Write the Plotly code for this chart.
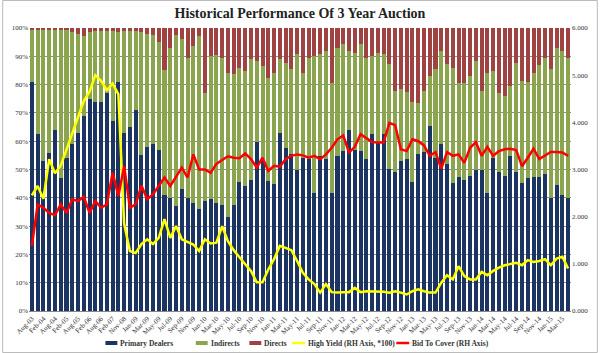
import plotly.graph_objects as go

categories = [
    "Aug-03", "Nov-03", "Feb-04", "May-04", "Aug-04", "Nov-04", "Feb-05", "May-05",
    "Aug-05", "Nov-05", "Feb-06", "May-06", "Aug-06", "Nov-06", "Feb-07", "May-07",
    "Nov-08", "Dec-08",
    "Jan-09", "Feb-09", "Mar-09", "Apr-09", "May-09", "Jun-09", "Jul-09", "Aug-09", "Sep-09", "Oct-09", "Nov-09", "Dec-09",
    "Jan-10", "Feb-10", "Mar-10", "Apr-10", "May-10", "Jun-10", "Jul-10", "Aug-10", "Sep-10", "Oct-10", "Nov-10", "Dec-10",
    "Jan-11", "Feb-11", "Mar-11", "Apr-11", "May-11", "Jun-11", "Jul-11", "Aug-11", "Sep-11", "Oct-11", "Nov-11", "Dec-11",
    "Jan-12", "Feb-12", "Mar-12", "Apr-12", "May-12", "Jun-12", "Jul-12", "Aug-12", "Sep-12", "Oct-12", "Nov-12", "Dec-12",
    "Jan-13", "Feb-13", "Mar-13", "Apr-13", "May-13", "Jun-13", "Jul-13", "Aug-13", "Sep-13", "Oct-13", "Nov-13", "Dec-13",
    "Jan-14", "Feb-14", "Mar-14", "Apr-14", "May-14", "Jun-14", "Jul-14", "Aug-14", "Sep-14", "Oct-14", "Nov-14", "Dec-14",
    "Jan-15", "Feb-15", "Mar-15", "Apr-15",
]

primary_dealers = [
    81, 62.5, 53, 56, 64, 47, 54, 59, 63, 69, 75, 74, 74, 77, 67, 81,
    63, 65, 71, 55, 58, 59, 57, 41, 40, 37, 43, 40, 38, 36, 39, 39.5,
    38.3, 37.5, 33.3, 37.5, 45.6, 44.2, 46.3, 59.7, 53.2, 46, 45, 62.8, 57.7, 55.4, 50, 54,
    53.8, 41.8, 54.8, 53.6, 41.8, 54.8, 56.5, 64, 57, 56.5, 53.6, 62.4, 59.5, 62.4, 50.3,
    49, 53, 53.8, 45.6, 55.6, 56.2, 65.4, 54.2, 58.9, 51.8, 45.1, 47.3, 46.3, 47.7, 50, 49.8,
    41.8, 54.2, 49.2, 47.7, 54.8, 49.2, 45.3, 47.1, 47.5, 47.5, 48.3, 40, 44.4, 40.9, 40,
]

directs = [
    0.5, 0.5, 0.5, 0.5, 0.5, 0.5, 0.5, 1.5, 2, 3, 1.5, 1, 1, 1, 1, 1.5,
    1, 1, 1, 1.5, 2, 2.5, 5, 15, 7, 2.5, 4, 10.5, 6.5, 3, 23, 10,
    9.7, 10.5, 15.8, 16.4, 14, 15.2, 11, 11.7, 13.4, 17.5, 15.8, 11, 12.2, 14.6, 9.3, 15.8,
    10.5, 10, 9.3, 8.1, 19.3, 7, 5.8, 8.1, 8.7, 5.8, 10.5, 9.9, 8.7, 9.3, 12.8,
    22.3, 21.7, 22.5, 26, 26.4, 22.3, 17, 14.6, 8.1, 12.8, 14, 19.3, 19.5, 17, 11.7, 22.3,
    15.8, 15.2, 22.9, 24, 20.5, 12.3, 18.7, 19, 15.8, 13.2, 10.5, 14.6, 7, 8.1, 10.5,
]

indirects = [round(100 - p - d, 2) for p, d in zip(primary_dealers, directs)]

high_yield = [
    2.45, 2.65, 2.38, 3.22, 2.92, 3.08, 3.42, 3.75, 4.1, 4.45, 4.65, 5.0, 4.88, 4.68, 4.82, 4.6,
    1.85, 1.27, 1.23, 1.42, 1.52, 1.42, 1.55, 1.95, 1.55, 1.8, 1.52, 1.46, 1.41, 1.27, 1.52, 1.43,
    1.45, 1.80, 1.48, 1.29, 1.13, 0.99, 0.85, 0.61, 0.61, 0.88, 1.10, 1.38, 1.34, 1.29, 1.06, 0.81,
    0.67, 0.57, 0.39, 0.57, 0.40, 0.39, 0.40, 0.40, 0.49, 0.40, 0.42, 0.42, 0.41, 0.41, 0.39,
    0.42, 0.39, 0.35, 0.42, 0.46, 0.42, 0.39, 0.39, 0.6, 0.76, 0.67, 0.95, 0.74, 0.67, 0.67, 0.83,
    0.76, 0.85, 0.92, 0.97, 0.99, 1.02, 0.97, 1.08, 1.04, 1.06, 1.10, 0.97, 1.11, 1.15, 0.90,
]

bid_to_cover = [
    1.38, 2.26, 2.19, 2.08, 2.03, 2.26, 2.08, 2.37, 2.33, 2.42, 2.08, 2.33, 2.19, 2.26, 2.93, 2.44,
    3.07, 2.19, 2.26, 2.66, 2.37, 2.47, 2.65, 2.83, 2.65, 2.86, 3.04, 2.83, 3.32, 3.0, 3.0, 2.93,
    3.12, 3.2, 3.28, 3.25, 3.24, 3.34, 3.22, 3.04, 3.25, 2.97, 3.08, 3.06, 3.22, 3.29, 3.32, 3.3,
    3.25, 3.29, 3.22, 3.32, 3.46, 3.64, 3.72, 3.36, 3.48, 3.75, 3.67, 3.58, 3.57, 3.57, 3.99,
    3.94, 3.43, 3.39, 3.64, 3.6, 3.51, 3.29, 3.37, 3.02, 3.37, 3.29, 3.32, 3.14, 3.46, 3.58, 3.29,
    3.48, 3.29, 3.39, 3.43, 3.44, 3.41, 3.07, 3.25, 3.44, 3.22, 3.29, 3.37, 3.37, 3.36, 3.29,
]

left_ticks = [0, 10, 20, 30, 40, 50, 60, 70, 80, 90, 100]
right_ticks = [0, 1, 2, 3, 4, 5, 6]
x_ticks = categories[::2]

series_names = ["Primary Dealers", "Indirects", "Directs",
                "High Yield (RH Axis, *100)", "Bid To Cover (RH Axis)"]
series_colors = ["#1B3461", "#8AA54E", "#9E4242", "#FFFF00", "#FF0000"]

SERIF = "Liberation Serif, Times New Roman, serif"

fig = go.Figure()
for vals, nm, col in zip([primary_dealers, indirects, directs], series_names[:3], series_colors[:3]):
    fig.add_trace(go.Bar(x=categories, y=vals, name=nm, marker=dict(color=col, line=dict(width=0))))
for vals, nm, col in zip([high_yield, bid_to_cover], series_names[3:], series_colors[3:]):
    fig.add_trace(go.Scatter(x=categories, y=vals, name=nm, mode="lines", yaxis="y2",
                             line=dict(color=col, width=2.5)))

W, H = 600, 353
ml, mr, mt, mb = 27, 27, 28, 42
pw, ph = W - ml - mr, H - mt - mb


def px(xp):
    return (xp - ml) / pw


def py(yp):
    return (mt + ph - yp) / ph


fig.update_layout(
    width=W, height=H,
    margin=dict(l=ml, r=mr, t=mt, b=mb),
    paper_bgcolor="white", plot_bgcolor="white",
    barmode="stack", bargap=0.3, showlegend=False,
    title=dict(text="<b>Historical Performance Of 3 Year Auction</b>",
               x=0.5, xanchor="center", y=1 - 13.5 / H, yanchor="middle",
               font=dict(family=SERIF, size=14, color="#222222")),
    font=dict(family=SERIF, size=7, color="#333333"),
    xaxis=dict(type="category", categoryorder="array", categoryarray=categories,
               tickmode="array", tickvals=x_ticks, ticktext=x_ticks,
               tickangle=-45, tickfont=dict(family=SERIF, size=7, color="#333333"),
               showgrid=False, showline=True, linecolor="#888888", linewidth=1,
               ticks="", range=[-0.5, len(categories) - 0.5]),
    yaxis=dict(range=[0, 100], tickmode="array", tickvals=left_ticks,
               ticktext=[f"{v}%" for v in left_ticks],
               tickfont=dict(family=SERIF, size=7, color="#333333"),
               showgrid=True, gridcolor="#8C8C8C", gridwidth=1,
               zeroline=False, showline=False, ticks=""),
    yaxis2=dict(range=[0, 6], overlaying="y", side="right", tickmode="array",
                tickvals=right_ticks, ticktext=[f"{v:.3f}" for v in right_ticks],
                tickfont=dict(family=SERIF, size=7, color="#333333"),
                showgrid=False, zeroline=False, showline=False, ticks=""),
)

# manual legend (symbol + label)
legend_sym_x = [104, 195, 249, 292, 397]
legend_y = 343
for i, (nm, col, sx) in enumerate(zip(series_names, series_colors, legend_sym_x)):
    if i < 3:
        fig.add_shape(type="rect", xref="paper", yref="paper",
                      x0=px(sx), x1=px(sx + 12), y0=py(legend_y + 2), y1=py(legend_y - 2),
                      fillcolor=col, line=dict(width=0))
    else:
        fig.add_shape(type="line", xref="paper", yref="paper",
                      x0=px(sx), x1=px(sx + 13), y0=py(legend_y), y1=py(legend_y),
                      line=dict(color=col, width=2.5))
    fig.add_annotation(text=f"<b>{nm}</b>", xref="paper", yref="paper",
                       x=px(sx + (14 if i >= 3 else 13)), y=py(legend_y),
                       xanchor="left", yanchor="middle", showarrow=False,
                       font=dict(family=SERIF, size=7.5, color="#333333"))

fig.add_shape(type="rect", xref="paper", yref="paper",
              x0=px(0.5), x1=px(W - 0.5), y0=py(H - 0.5), y1=py(0.5),
              line=dict(color="#BBBBBB", width=1), layer="below")

fig.write_html("out.html")
